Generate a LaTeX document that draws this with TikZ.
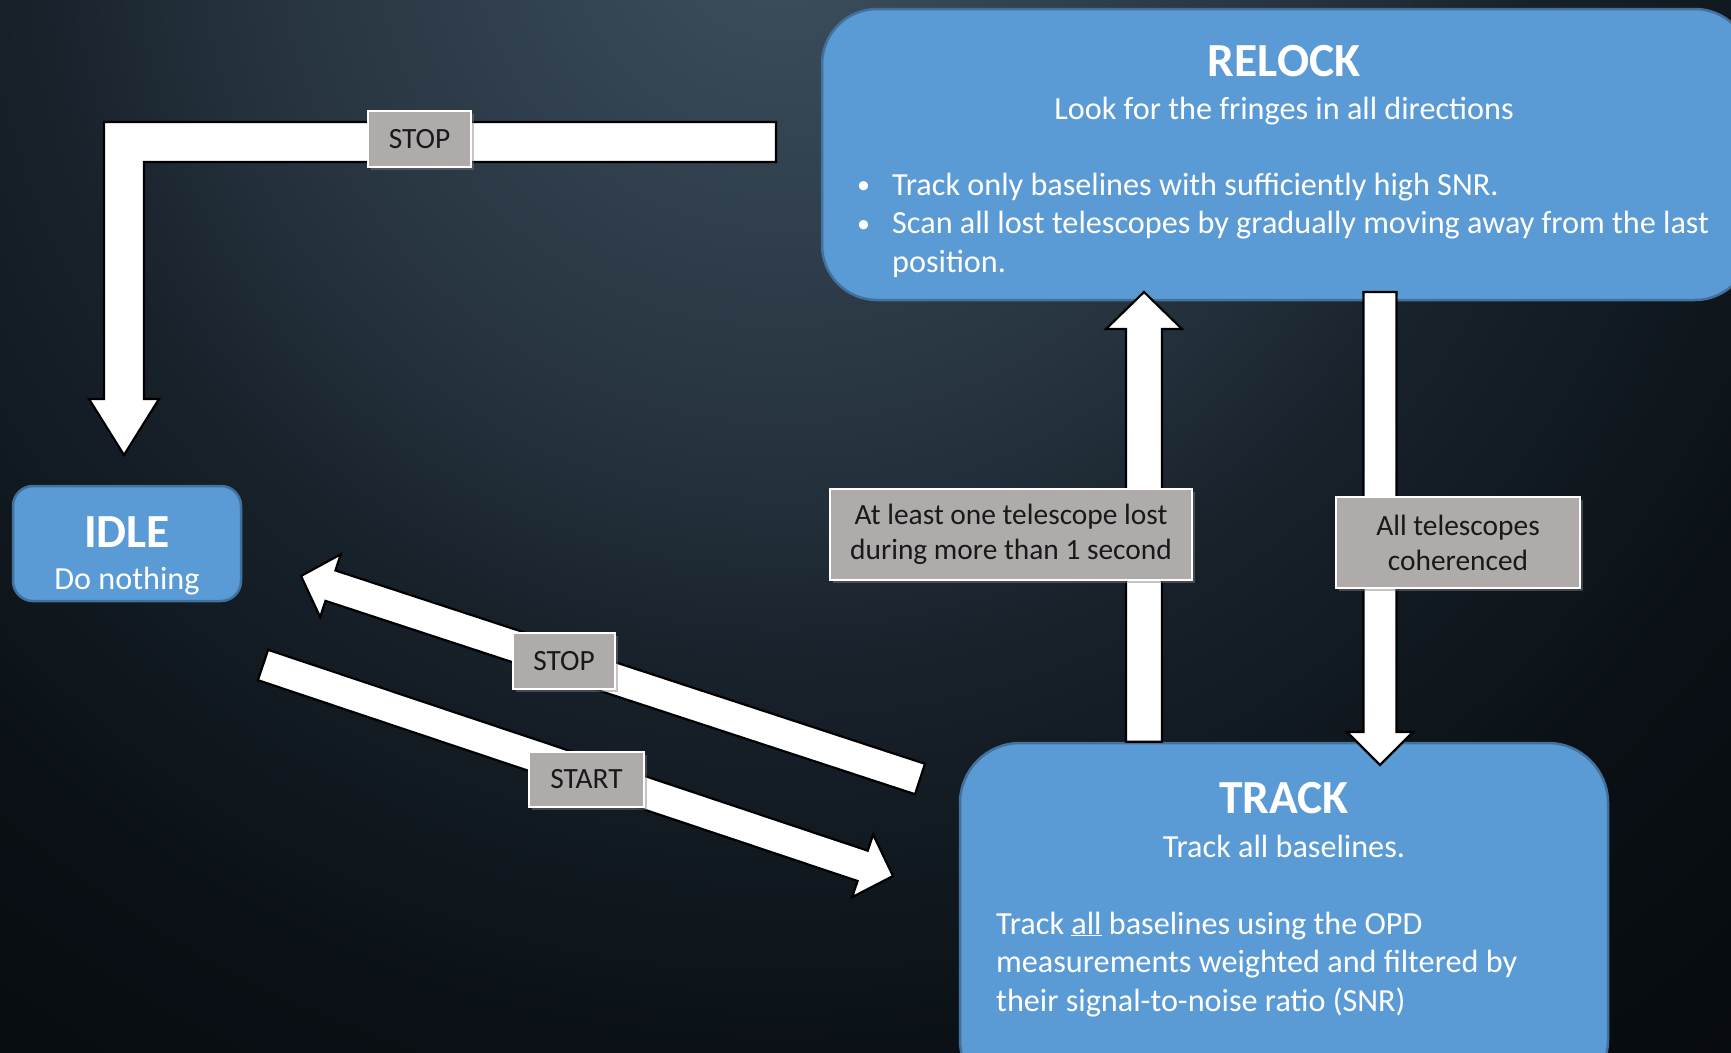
\documentclass[tikz,border=0pt]{standalone}
\usepackage{fontspec}
\setmainfont{Carlito}
\usetikzlibrary{calc,shadows}

\definecolor{boxblue}{HTML}{5B9BD5}
\definecolor{boxedge}{HTML}{41719C}
\definecolor{lblgray}{HTML}{AFABAB}
\definecolor{bgin}{HTML}{3E4F5E}
\definecolor{bgmid}{HTML}{26333F}
\definecolor{bglow}{HTML}{18222B}
\definecolor{bgdeep}{HTML}{0A1015}
\definecolor{bgout}{HTML}{05090D}
\pgfdeclareradialshading{slidebg}{\pgfpoint{0bp}{0bp}}{color(0bp)=(bgin); color(8.3bp)=(bgmid);
  color(11.6bp)=(bglow); color(18.1bp)=(bgdeep); color(25bp)=(bgout); color(50bp)=(bgout)}

\newcommand{\blockarrow}[5]{%
  \coordinate (ba) at ($(#2)!#5!(#1)$);
  \filldraw[blockarr] ($(#1)!#3!90:(#2)$) -- ($(ba)!#3!90:(#2)$) -- ($(ba)!#4!90:(#2)$) -- (#2)
    -- ($(ba)!#4!-90:(#2)$) -- ($(ba)!#3!-90:(#2)$) -- ($(#1)!#3!-90:(#2)$) -- cycle;
}
\newcommand{\smallbullet}{\raisebox{1.5pt}{\fontsize{26}{26}\selectfont\textbullet}}

\begin{document}
\begin{tikzpicture}[x=1pt, y=-1pt,
  statebox/.style={fill=boxblue, draw=boxedge, line width=2.5pt, inner sep=0pt},
  condbox/.style={fill=lblgray, draw=white, line width=2pt, inner sep=0pt, align=center,
    text=black!90, font=\fontsize{29.4}{35}\selectfont,
    drop shadow={shadow xshift=3pt, shadow yshift=-3pt, opacity=0.45}},
  blockarr/.style={fill=white, draw=black, line width=2.2pt, line join=miter},
  titletext/.style={anchor=base, inner sep=0pt, text=white, font=\fontsize{47.5}{54}\selectfont\bfseries},
  bodytext/.style={anchor=base, inner sep=0pt, text=white, font=\fontsize{32.2}{38.5}\selectfont}]
\useasboundingbox (0,0) rectangle (1731,1052);
\begin{scope}
\clip (0,0) rectangle (1731,1052);
\fill[bgout] (0,0) rectangle (1731,1052);
\shade[shading=slidebg] (780,-80) circle (1600);
\end{scope}

\node[statebox, rounded corners=55pt, minimum width=928pt, minimum height=291pt] (relock) at (1286,154.5) {};
\node[statebox, rounded corners=20pt, minimum width=228pt, minimum height=115pt] (idle) at (127,543.5) {};
\node[statebox, rounded corners=60pt, minimum width=648pt, minimum height=357pt] (track) at (1284,921.5) {};

\coordinate (stopfrom) at (776,142);
\coordinate (stopto) at (124,455);
\filldraw[blockarr] ($(stopfrom)+(0,-20)$) -- ($(stopto|-stopfrom)+(-20,-20)$) -- ($(stopto)+(-20,-56)$)
  -- ($(stopto)+(-35,-56)$) -- (stopto) -- ($(stopto)+(35,-56)$) -- ($(stopto)+(20,-56)$)
  -- ($(stopto|-stopfrom)+(20,20)$) -- ($(stopfrom)+(0,20)$) -- cycle;

\coordinate (lostfrom) at (track.north -| 1144,0);
\coordinate (lostto) at (1144,292);
\coordinate (cohfrom) at (1380,292);
\coordinate (cohto) at (1380,765);
\coordinate (haltfrom) at (920,779);
\coordinate (haltto) at (301,576);
\coordinate (gofrom) at (263,665);
\coordinate (goto) at (893,876);
\blockarrow{lostfrom}{lostto}{18pt}{38pt}{37pt}
\blockarrow{cohfrom}{cohto}{16.5pt}{33pt}{33pt}
\blockarrow{haltfrom}{haltto}{16pt}{33pt}{31pt}
\blockarrow{gofrom}{goto}{16pt}{33pt}{32pt}

\node[condbox, minimum width=103pt, minimum height=56pt] (stop1) at (419.5,139) {STOP};
\node[condbox, minimum width=362pt, minimum height=91pt] (lost) at (1011,534.5) {At least one telescope lost\\during more than 1 second};
\node[condbox, minimum width=244pt, minimum height=91pt] (coh) at (1458,542.5) {All telescopes\\coherenced};
\node[condbox, minimum width=102pt, minimum height=56pt] (stop2) at (564,661) {STOP};
\node[condbox, minimum width=115pt, minimum height=55pt] (start) at (586.5,779.5) {START};

\node[titletext] (relock-t) at (1284,76) {RELOCK};
\node[bodytext] (relock-s) at (1284,119) {Look for the fringes in all directions};
\node[bodytext, anchor=base west] (relock-b) at (857,195) {\begin{tabular}[t]{@{}p{35pt}@{}l@{}}
\smallbullet & Track only baselines with sufficiently high SNR.\\
\smallbullet & Scan all lost telescopes by gradually moving away from the last\\
 & position.
\end{tabular}};

\node[titletext] (idle-t) at (127,547) {IDLE};
\node[bodytext] (idle-s) at (127,589) {Do nothing};

\node[titletext] (track-t) at (1284,813) {TRACK};
\node[bodytext] (track-s) at (1284,857) {Track all baselines.};
\node[bodytext, anchor=base west] (track-b) at (996,934) {\begin{tabular}[t]{@{}l@{}}
Track \underline{all} baselines using the OPD\\
measurements weighted and filtered by\\
their signal-to-noise ratio (SNR)
\end{tabular}};
\end{tikzpicture}
\end{document}
